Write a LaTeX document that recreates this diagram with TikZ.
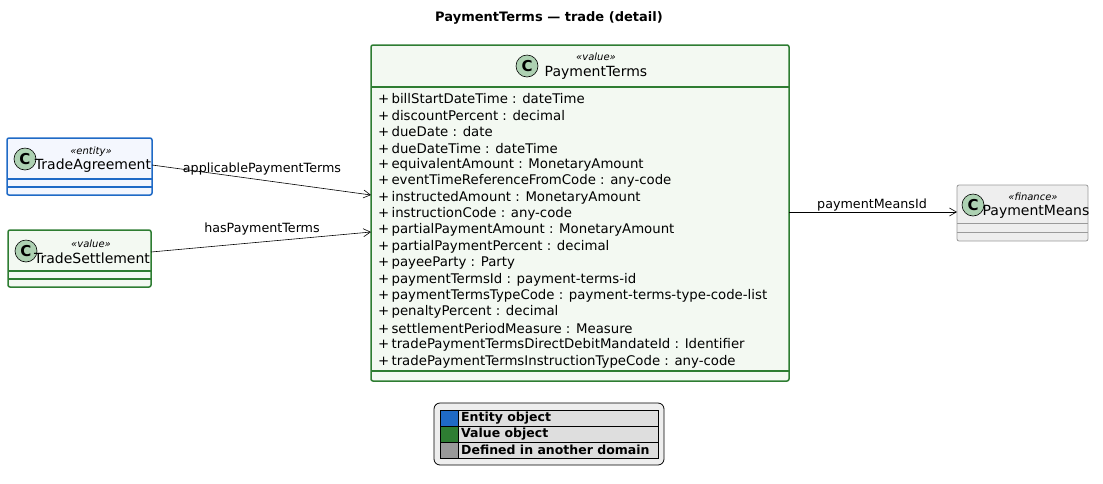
\documentclass[tikz,border=0pt]{standalone}
\usepackage{fontspec}
\setmainfont{DejaVu Sans}
\usetikzlibrary{arrows.meta}
\definecolor{entB}{HTML}{1F6AC6}
\definecolor{entF}{HTML}{F4F7FE}
\definecolor{valB}{HTML}{2E7D32}
\definecolor{valF}{HTML}{F3F9F2}
\definecolor{extB}{HTML}{9A9A9A}
\definecolor{extF}{HTML}{EEEEEE}
\definecolor{circ}{HTML}{ADD1B2}
\begin{document}
\begin{tikzpicture}[x=1pt,y=-1pt,
  box/.style={rounded corners=2pt,line width=1.5pt},
  cc/.style={circle,draw=black,line width=0.6pt,fill=circ,minimum size=22pt,inner sep=0pt,font=\fontsize{15}{15}\selectfont\bfseries},
  st/.style={font=\fontsize{10}{11}\selectfont\itshape},
  nm/.style={font=\fontsize{14}{15}\selectfont},
  attr/.style={anchor=west,inner sep=0pt,font=\fontsize{13.3}{15}\selectfont},
  lb/.style={font=\fontsize{12.7}{14}\selectfont,inner sep=1pt},
  ar/.style={-{Straight Barb[length=7pt,width=8pt]},line width=0.6pt}]
\useasboundingbox (0,0) rectangle (1103,483);
\node[font=\fontsize{13}{15}\selectfont\bfseries] (title) at (549,18) {PaymentTerms — trade (detail)};
% PaymentTerms
\draw[box,draw=valB,fill=valF] (371,45) rectangle (789,381);
\draw[valB,line width=1.5pt] (371,87) -- (789,87) (371,371) -- (789,371);
\node[cc] (c1) at (527,66) {C};
\node[st] (s1) at (596,57) {«value»};
\node[nm] (PT) at (596,73) {PaymentTerms};
\foreach \t [count=\i from 0] in {billStartDateTime : dateTime,discountPercent : decimal,dueDate : date,dueDateTime : dateTime,equivalentAmount : MonetaryAmount,eventTimeReferenceFromCode : any-code,instructedAmount : MonetaryAmount,instructionCode : any-code,partialPaymentAmount : MonetaryAmount,partialPaymentPercent : decimal,payeeParty : Party,paymentTermsId : payment-terms-id,paymentTermsTypeCode : payment-terms-type-code-list,penaltyPercent : decimal,settlementPeriodMeasure : Measure,tradePaymentTermsDirectDebitMandateId : Identifier,tradePaymentTermsInstructionTypeCode : any-code}
  \node[attr] (a\i) at (378,{99+16.4*\i}) {+\,\t};
% TradeAgreement
\draw[box,draw=entB,fill=entF] (7,138) rectangle (152,195);
\draw[entB,line width=1.5pt] (7,179) -- (152,179) (7,187) -- (152,187);
\node[cc] (c2) at (25,159) {C};
\node[st] (s2) at (91,152) {«entity»};
\node[nm] (TA) at (93,166) {TradeAgreement};
% TradeSettlement
\draw[box,draw=valB,fill=valF] (8,230) rectangle (151,287);
\draw[valB,line width=1.5pt] (8,271) -- (151,271) (8,279) -- (151,279);
\node[cc] (c3) at (26,251) {C};
\node[st] (s3) at (91,244) {«value»};
\node[nm] (TS) at (92,258) {TradeSettlement};
% PaymentMeans
\draw[rounded corners=2pt,line width=0.8pt,draw=extB,fill=extF] (957,185) rectangle (1088,241);
\draw[extB,line width=0.8pt] (957,223) -- (1088,223) (957,232) -- (1088,232);
\node[cc] (c4) at (973,205) {C};
\node[st] (s4) at (1033,197) {«finance»};
\node[nm] (PM) at (1036,212) {PaymentMeans};
% connectors
\coordinate (p1) at (152,165); \coordinate (q1) at (371,195);
\coordinate (p2) at (151,252); \coordinate (q2) at (371,232);
\coordinate (p3) at (789,212); \coordinate (q3) at (957,212);
\draw[ar] (p1) -- (q1);
\draw[ar] (p2) -- (q2);
\draw[ar] (p3) -- (q3);
\node[lb] (l1) at (262,169) {applicablePaymentTerms};
\node[lb] (l2) at (262,229) {hasPaymentTerms};
\node[lb] (l3) at (872,205) {paymentMeansId};
% legend
\draw[rounded corners=6pt,line width=0.8pt,fill=extF] (434,403) rectangle (664,465);
\draw[line width=0.6pt,fill=black!13] (440,410) rectangle (658,458);
\draw[line width=0.6pt] (440,426) -- (658,426) (440,442) -- (658,442) (458,410) -- (458,458);
\fill[entB] (440.5,410.5) rectangle (457.5,425.5);
\fill[valB] (440.5,426.5) rectangle (457.5,441.5);
\fill[extB] (440.5,442.5) rectangle (457.5,457.5);
\node[attr,font=\fontsize{12.5}{14}\selectfont\bfseries] (g1) at (461,418) {Entity object};
\node[attr,font=\fontsize{12.5}{14}\selectfont\bfseries] (g2) at (461,434) {Value object};
\node[attr,font=\fontsize{12.5}{14}\selectfont\bfseries] (g3) at (461,450) {Defined in another domain};
\end{tikzpicture}
\end{document}
